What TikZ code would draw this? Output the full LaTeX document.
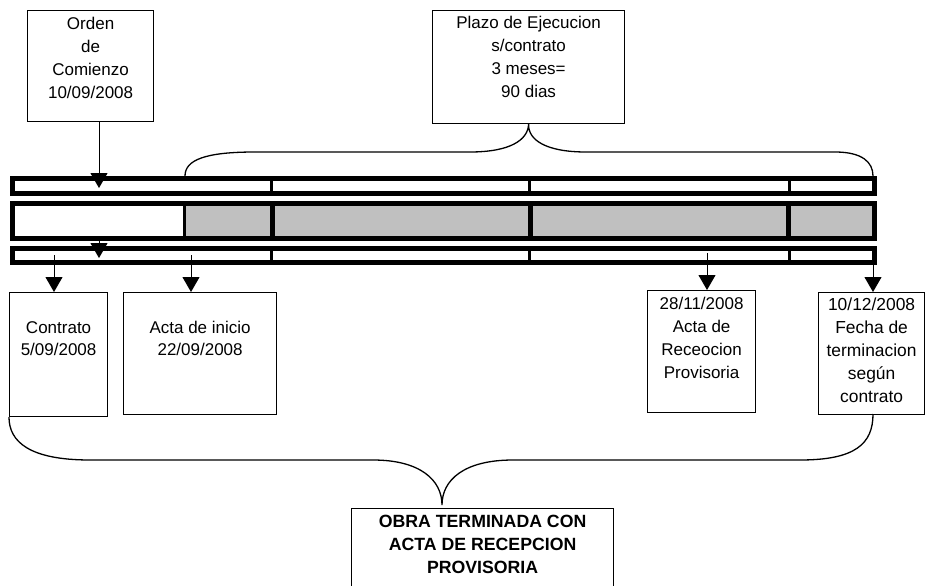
\documentclass[tikz,border=0pt]{standalone}
\usepackage{fontspec}
\setmainfont{Liberation Sans}
\usetikzlibrary{arrows.meta}
\definecolor{barfill}{HTML}{C0C0C0}
\newcommand{\boxtext}[4]{\parbox[c][#2][t]{#1}{\centering\vspace*{#3}#4}}
\begin{document}
\begin{tikzpicture}[x=1pt,y=-1pt,
  box/.style={draw, line width=1.2pt, inner sep=0pt, anchor=north west, font=\fontsize{17}{23}\selectfont},
  conn/.style={line width=1pt, -{Triangle[width=17pt,length=15pt]}},
  brace/.style={line width=1.3pt},
  barline/.style={line width=5pt},
  divthin/.style={line width=3pt},
  divthick/.style={line width=5pt}]
\useasboundingbox (0,0) rectangle (929,586);

% boxes
\node[box] (orden) at (27,10) {\boxtext{126pt}{111pt}{6.6pt}{Orden\\de\\Comienzo\\10/09/2008}};
\node[box] (plazo) at (432,10) {\boxtext{192pt}{113pt}{6pt}{Plazo de Ejecucion\\s/contrato\\3 meses=\\90 dias}};
\node[box] (contrato) at (9,292) {\boxtext{98pt}{124pt}{28.6pt}{\fontsize{17}{22}\selectfont Contrato\\5/09/2008}};
\node[box] (inicio) at (123,292) {\boxtext{153pt}{122pt}{28.6pt}{\fontsize{17}{22}\selectfont Acta de inicio\\22/09/2008}};
\node[box] (recep) at (647,290) {\boxtext{108pt}{122pt}{6.6pt}{28/11/2008\\Acta de\\Receocion\\Provisoria}};
\node[box] (fecha) at (818,292) {\boxtext{106pt}{122pt}{5.6pt}{\fontsize{17.4}{23}\selectfont 10/12/2008\\Fecha de\\terminacion\\según\\contrato}};
\node[box] (obra) at (351,508) {\boxtext{262pt}{90pt}{7pt}{\fontsize{17.7}{23}\selectfont\bfseries OBRA TERMINADA CON\\ACTA DE RECEPCION\\PROVISORIA}};

% braces
\coordinate (tbL) at (185,176);
\coordinate (tbR) at (873,176);
\draw[brace] (tbL) .. controls (185,160) and (205,152) .. (255,152) -- (470,152)
  .. controls (510,152) and (528,140) .. (plazo.south)
  .. controls (528,140) and (546,152) .. (586,152) -- (835,152)
  .. controls (862,152) and (873,162) .. (tbR);
\coordinate (bbR) at (873,414);
\coordinate (bbTip) at (442,505);
\draw[brace] (contrato.south west) .. controls (9,442) and (30,460) .. (90,460) -- (373,460)
  .. controls (420,460) and (442,480) .. (bbTip)
  .. controls (442,480) and (464,460) .. (513,460) -- (800,460)
  .. controls (855,460) and (873,444) .. (bbR);

% top and bottom bars
\draw[barline, fill=white] (12.5,178.5) rectangle (874,193.5);
\draw[divthin] (271,181) -- (271,191);
\draw[divthin] (529.7,181) -- (529.7,191);
\draw[divthin] (789.5,181) -- (789.5,191);
\draw[barline, fill=white] (12.5,248.5) rectangle (874,262.5);
\draw[divthin] (271,251) -- (271,260);
\draw[divthin] (529.7,251) -- (529.7,260);
\draw[divthin] (789.5,251) -- (789.5,260);

% arrow partly hidden by middle bar
\coordinate (h0) at (99,225);
\coordinate (h1) at (99,258);
\draw[conn] (h0) -- (h1);

% middle bar
\fill[white] (12.5,203.5) rectangle (185,238.5);
\fill[barfill] (185,203.5) rectangle (874,238.5);
\draw[line width=2.5pt] (184.5,206) -- (184.5,236);
\draw[barline] (12.5,203.5) rectangle (874,238.5);
\draw[divthick] (272,206) -- (272,236);
\draw[divthick] (530.5,206) -- (530.5,236);
\draw[divthick] (788.5,206) -- (788.5,236);

% arrows
\coordinate (ao) at (99,188);
\draw[conn] (orden.south -| ao) -- (ao);
\coordinate (s1) at (54,255);
\coordinate (s2) at (191,255);
\coordinate (s3) at (707,253);
\coordinate (s4) at (873,253);
\draw[conn] (s1) -- (s1 |- contrato.north);
\draw[conn] (s2) -- (s2 |- inicio.north);
\draw[conn] (s3) -- (s3 |- recep.north);
\draw[conn] (s4) -- (s4 |- fecha.north);
\end{tikzpicture}
\end{document}
